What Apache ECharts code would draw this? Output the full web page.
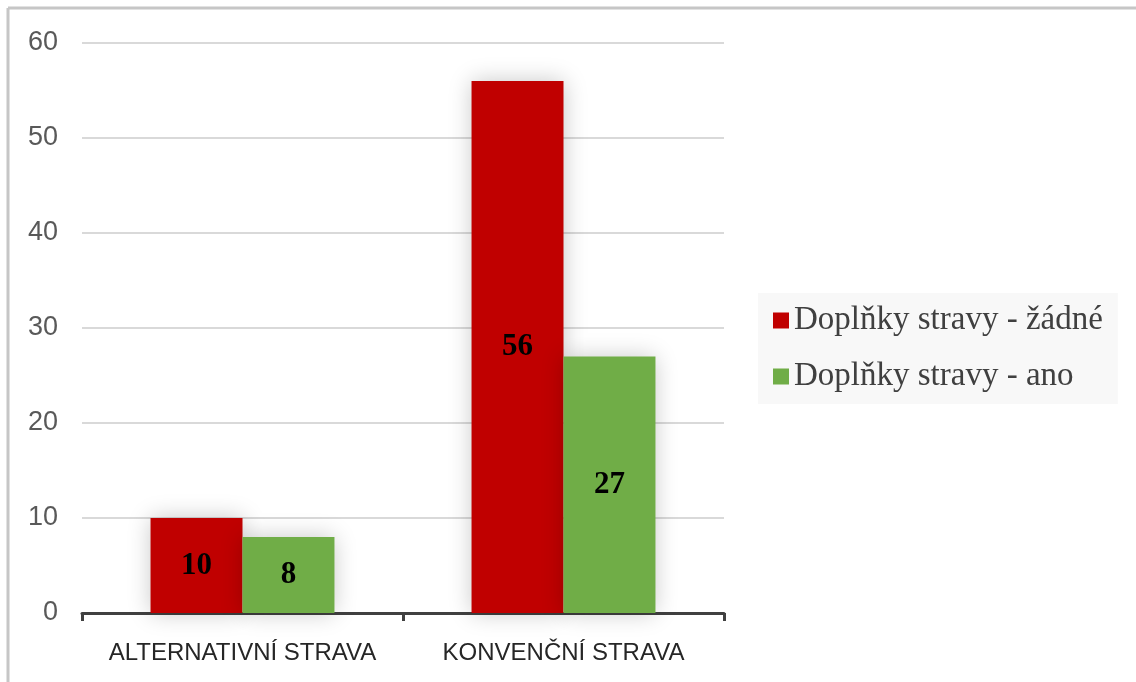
<!DOCTYPE html>
<html>
<head>
<meta charset="utf-8">
<script src="https://cdn.jsdelivr.net/npm/echarts@6/dist/echarts.min.js"></script>
<style>
  html, body { margin: 0; padding: 0; background: #fff; }
  #chart { width: 1136px; height: 682px; }
</style>
</head>
<body>
<div id="chart"></div>
<script>
// data
const categories = ['ALTERNATIVNÍ STRAVA', 'KONVENČNÍ STRAVA'];
const seriesNames = ['Doplňky stravy - žádné', 'Doplňky stravy - ano'];
const valuesNone = [10, 56];
const valuesYes = [8, 27];
const colors = ['#C00000', '#70AD47'];

const chart = echarts.init(document.getElementById('chart'));

const labelStyle = {
  show: true,
  position: 'inside',
  fontFamily: 'Liberation Serif',
  fontWeight: 'bold',
  fontSize: 31,
  color: '#000'
};

const barStyle = (c) => ({
  color: c,
  shadowColor: 'rgba(0,0,0,0.22)',
  shadowBlur: 22
});

chart.setOption({
  animation: false,
  color: colors,
  graphic: [
    // frame (left + top)
    { type: 'line', shape: { x1: 8, y1: 8, x2: 1136, y2: 8 }, style: { stroke: '#c6c6c6', lineWidth: 3 } },
    { type: 'line', shape: { x1: 8, y1: 8, x2: 8, y2: 682 }, style: { stroke: '#c6c6c6', lineWidth: 3 } }
  ],
  grid: { left: 82, right: 412, top: 43, bottom: 69 },
  legend: {
    orient: 'vertical',
    left: 758,
    top: 293,
    padding: [11, 15, 11, 15],
    backgroundColor: '#f8f8f8',
    itemWidth: 16,
    itemHeight: 16,
    itemGap: 23,
    icon: 'rect',
    textStyle: { fontFamily: 'Liberation Serif', fontSize: 33, color: '#404040' },
    data: seriesNames
  },
  xAxis: {
    type: 'category',
    data: categories,
    axisLine: { lineStyle: { color: '#404040', width: 3 } },
    axisTick: { show: true, length: 8, lineStyle: { color: '#404040', width: 3 } },
    axisLabel: { interval: 0, fontFamily: 'Liberation Sans', fontSize: 24, color: '#262626', margin: 28 }
  },
  yAxis: {
    type: 'value',
    min: 0,
    max: 60,
    interval: 10,
    axisLine: { show: false },
    axisTick: { show: false },
    axisLabel: { fontFamily: 'Liberation Sans', fontSize: 27, color: '#595959', margin: 24 },
    splitLine: { lineStyle: { color: '#d9d9d9', width: 2 } }
  },
  series: [
    {
      name: seriesNames[0], type: 'bar', data: valuesNone,
      barGap: '0%', barCategoryGap: '42.7%',
      itemStyle: barStyle(colors[0]), label: labelStyle
    },
    {
      name: seriesNames[1], type: 'bar', data: valuesYes,
      barGap: '0%', barCategoryGap: '42.7%',
      itemStyle: barStyle(colors[1]), label: labelStyle
    }
  ]
});
</script>
</body>
</html>
